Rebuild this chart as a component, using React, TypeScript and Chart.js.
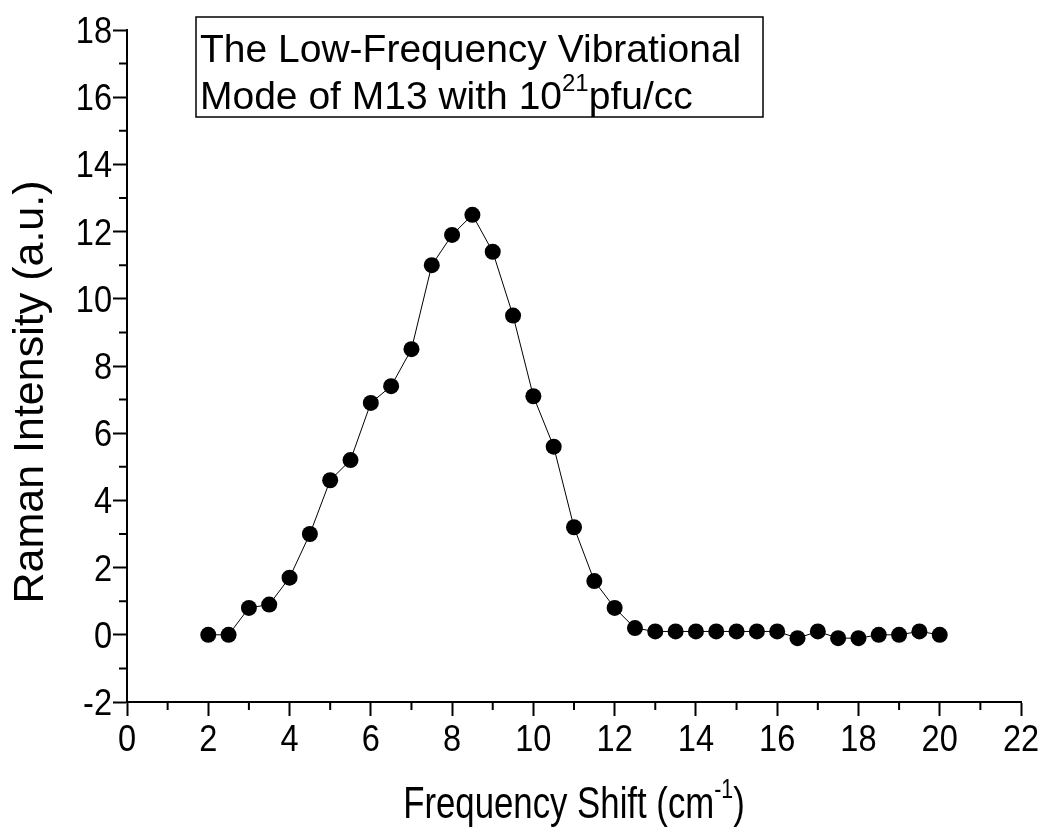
import { useEffect, useRef } from 'react';
import { Chart, registerables } from 'chart.js';

Chart.register(...registerables);

// Frequency shift (cm^-1)
const shifts = [2, 2.5, 3, 3.5, 4, 4.5, 5, 5.5, 6, 6.5, 7, 7.5, 8, 8.5, 9, 9.5, 10, 10.5, 11, 11.5, 12, 12.5, 13, 13.5, 14, 14.5, 15, 15.5, 16, 16.5, 17, 17.5, 18, 18.5, 19, 19.5, 20];
// Raman intensity (a.u.)
const intensity = [0, 0, 0.8, 0.9, 1.7, 3.0, 4.6, 5.2, 6.9, 7.4, 8.5, 11.0, 11.9, 12.5, 11.4, 9.5, 7.1, 5.6, 3.2, 1.6, 0.8, 0.2, 0.1, 0.1, 0.1, 0.1, 0.1, 0.1, 0.1, -0.1, 0.1, -0.1, -0.1, 0, 0, 0.1, 0];

const xRange = [0, 22];
const yRange = [-2, 18];
const majorStep = 2;
const minorStep = 1;

const xTitle = 'Frequency Shift (cm';
const xTitleSup = '-1';
const xTitleEnd = ')';
const yTitle = 'Raman Intensity (a.u.)';
const boxLine1 = 'The Low-Frequency Vibrational';
const boxLine2a = 'Mode of M13 with 10';
const boxLine2Sup = '21';
const boxLine2b = 'pfu/cc';

const FONT = '"Liberation Sans", Arial, sans-serif';

export default function App() {
  const ref = useRef<HTMLCanvasElement>(null);

  useEffect(() => {
    document.body.style.margin = '0';
    document.body.style.overflow = 'hidden';
    const canvas = ref.current;
    if (!canvas) return;

    const decorations = {
      id: 'decorations',
      afterDraw(chart: any) {
        const ctx = chart.ctx as CanvasRenderingContext2D;
        const xs = chart.scales.x;
        const ys = chart.scales.y;
        const area = chart.chartArea;
        ctx.save();
        ctx.strokeStyle = '#000';
        ctx.fillStyle = '#000';
        ctx.lineWidth = 2;
        // minor ticks
        ctx.beginPath();
        for (let v = xRange[0] + minorStep; v < xRange[1]; v += majorStep) {
          const px = xs.getPixelForValue(v);
          ctx.moveTo(px, area.bottom);
          ctx.lineTo(px, area.bottom + 8);
        }
        for (let v = yRange[0] + minorStep; v < yRange[1]; v += majorStep) {
          const py = ys.getPixelForValue(v);
          ctx.moveTo(area.left, py);
          ctx.lineTo(area.left - 8, py);
        }
        ctx.stroke();

        // tick labels (slightly condensed, like the original)
        const tsx = 0.88;
        ctx.font = `37px ${FONT}`;
        ctx.textBaseline = 'alphabetic';
        ctx.textAlign = 'center';
        xs.ticks.forEach((t: any) => {
          const px = xs.getPixelForValue(t.value);
          ctx.save();
          ctx.translate(px, 751);
          ctx.scale(tsx, 1);
          ctx.fillText(String(t.value), 0, 0);
          ctx.restore();
        });
        ctx.textAlign = 'right';
        ys.ticks.forEach((t: any) => {
          const py = ys.getPixelForValue(t.value);
          ctx.save();
          ctx.translate(112, py + 13);
          ctx.scale(tsx, 1);
          ctx.fillText(String(t.value), 0, 0);
          ctx.restore();
        });

        // y title
        ctx.save();
        ctx.translate(43, 392);
        ctx.rotate(-Math.PI / 2);
        ctx.font = `43px ${FONT}`;
        ctx.textAlign = 'center';
        ctx.textBaseline = 'alphabetic';
        ctx.fillText(yTitle, 0, 0);
        ctx.restore();

        // x title with superscript (condensed)
        const sx = 0.79;
        const big = `44px ${FONT}`;
        const small = `27px ${FONT}`;
        ctx.textAlign = 'left';
        ctx.textBaseline = 'alphabetic';
        ctx.font = big;
        const w1 = ctx.measureText(xTitle).width;
        const w3 = ctx.measureText(xTitleEnd).width;
        ctx.font = small;
        const w2 = ctx.measureText(xTitleSup).width;
        const total = (w1 + w2 + w3) * sx;
        const x0 = (area.left + area.right) / 2 - total / 2;
        const base = 818;
        ctx.save();
        ctx.translate(x0, base);
        ctx.scale(sx, 1);
        ctx.font = big;
        ctx.fillText(xTitle, 0, 0);
        ctx.font = small;
        ctx.fillText(xTitleSup, w1, -20);
        ctx.font = big;
        ctx.fillText(xTitleEnd, w1 + w2, 0);
        ctx.restore();

        // annotation box
        ctx.lineWidth = 1.5;
        ctx.strokeRect(196, 17, 567, 100);
        const bfont = `39px ${FONT}`;
        const bsmall = `24px ${FONT}`;
        ctx.font = bfont;
        ctx.fillText(boxLine1, 200, 62);
        const wa = ctx.measureText(boxLine2a).width;
        ctx.fillText(boxLine2a, 200, 109);
        ctx.font = bsmall;
        const ws = ctx.measureText(boxLine2Sup).width;
        ctx.fillText(boxLine2Sup, 200 + wa, 91);
        ctx.font = bfont;
        ctx.fillText(boxLine2b, 200 + wa + ws, 109);
        ctx.restore();
      },
    };

    const chart = new Chart(canvas, {
      type: 'line',
      data: {
        datasets: [
          {
            data: shifts.map((x, i) => ({ x, y: intensity[i] })),
            borderColor: '#000',
            borderWidth: 1,
            pointRadius: 8,
            pointBackgroundColor: '#000',
            pointBorderColor: '#000',
            pointBorderWidth: 0,
            tension: 0,
            fill: false,
          },
        ],
      },
      options: {
        responsive: false,
        animation: false,
        events: [],
        layout: { padding: { top: 30, right: 22, left: 0, bottom: 0 } },
        plugins: {
          legend: { display: false },
          tooltip: { enabled: false },
          title: { display: false },
        },
        scales: {
          x: {
            type: 'linear',
            min: xRange[0],
            max: xRange[1],
            ticks: {
              display: false,
              stepSize: majorStep,
              autoSkip: false,
            },
            grid: {
              drawOnChartArea: false,
              drawTicks: true,
              tickLength: 14,
              tickWidth: 2,
              tickColor: '#000',
              color: '#000',
            },
            border: { display: true, color: '#000', width: 2 },
            afterFit(s: any) {
              s.height = 138;
            },
          },
          y: {
            type: 'linear',
            min: yRange[0],
            max: yRange[1],
            ticks: {
              display: false,
              stepSize: majorStep,
              autoSkip: false,
            },
            grid: {
              drawOnChartArea: false,
              drawTicks: true,
              tickLength: 14,
              tickWidth: 2,
              tickColor: '#000',
              color: '#000',
            },
            border: { display: true, color: '#000', width: 2 },
            afterFit(s: any) {
              s.width = 127;
            },
          },
        },
      },
      plugins: [decorations],
    });

    return () => chart.destroy();
  }, []);

  return <canvas ref={ref} width={1043} height={840} style={{ display: 'block' }} />;
}
